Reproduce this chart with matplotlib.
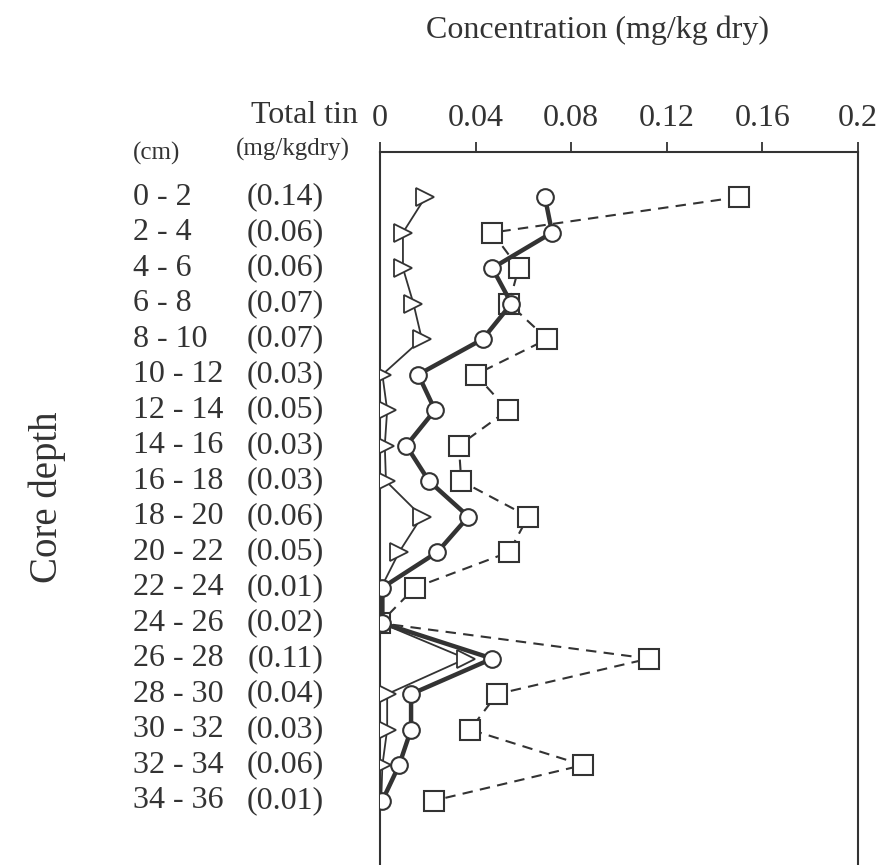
import numpy as np
import matplotlib

matplotlib.use("Agg")
import matplotlib.pyplot as plt

plt.rcParams["font.family"] = ["Liberation Serif", "DejaVu Serif"]

depths = ["0 - 2", "2 - 4", "4 - 6", "6 - 8", "8 - 10", "10 - 12", "12 - 14",
          "14 - 16", "16 - 18", "18 - 20", "20 - 22", "22 - 24", "24 - 26",
          "26 - 28", "28 - 30", "30 - 32", "32 - 34", "34 - 36"]
total_tin = ["(0.14)", "(0.06)", "(0.06)", "(0.07)", "(0.07)", "(0.03)", "(0.05)",
             "(0.03)", "(0.03)", "(0.06)", "(0.05)", "(0.01)", "(0.02)", "(0.11)",
             "(0.04)", "(0.03)", "(0.06)", "(0.01)"]
# triangles (thin solid), circles (thick solid), squares (dashed)
tri = [0.019, 0.0096, 0.0096, 0.014, 0.0175, 0.001, 0.003, 0.002, 0.0025,
       0.0175, 0.008, 0.0005, 0.0005, 0.036, 0.003, 0.003, 0.001, 0.0005]
circ = [0.069, 0.072, 0.047, 0.055, 0.043, 0.016, 0.023, 0.011, 0.0205,
        0.037, 0.024, 0.001, 0.001, 0.047, 0.013, 0.013, 0.008, 0.001]
sq = [0.150, 0.047, 0.058, 0.054, 0.070, 0.040, 0.0535, 0.033, 0.034,
      0.062, 0.054, 0.0146, 0.0, 0.1125, 0.049, 0.0377, 0.085, 0.0225]
xticks = [0, 0.04, 0.08, 0.12, 0.16, 0.2]
xticklabels = ["0", "0.04", "0.08", "0.12", "0.16", "0.2"]

W, H = 889, 865
fig = plt.figure(figsize=(W / 100, H / 100), dpi=100)
ax = fig.add_axes([380 / W, 1 - 900 / H, 478 / W, 748 / H])

rows = np.arange(len(depths))
ink = "#333333"
fs = 23
ax.plot(sq, rows, ls=(0, (5, 3.5)), lw=1.5, color=ink, marker="s", ms=14,
        mfc="white", mec=ink, mew=1.5, zorder=2)
ax.plot(tri, rows, ls="-", lw=1.3, color=ink, marker=">", ms=13,
        mfc="white", mec=ink, mew=1.3, zorder=3)
ax.plot(circ, rows, ls="-", lw=3.2, color=ink, marker="o", ms=12,
        mfc="white", mec=ink, mew=1.5, zorder=4)

ax.set_xlim(0, 0.2)
ax.set_ylim(19.8, -1.27)
ax.xaxis.tick_top()
ax.set_xticks(xticks)
ax.set_xticklabels(xticklabels, fontsize=fs, color=ink)
ax.tick_params(axis="x", direction="out", length=7, width=1.3, color=ink, pad=7)
ax.set_yticks([])
ax.spines["bottom"].set_visible(False)
for s in ["top", "left", "right"]:
    ax.spines[s].set_linewidth(1.5)
    ax.spines[s].set_color(ink)

# depth and total tin labels
tr = ax.get_yaxis_transform()
for i, (d, t) in enumerate(zip(depths, total_tin)):
    ax.text(-0.517, i, d, transform=tr, ha="left", va="center", fontsize=fs, color=ink)
    ax.text(-0.118, i, t, transform=tr, ha="right", va="center", fontsize=fs, color=ink)

fig.text(133 / W, 1 - 153 / H, "(cm)", ha="left", va="center", fontsize=18, color=ink)
fig.text(236 / W, 1 - 149 / H, "(mg/kgdry)", ha="left", va="center", fontsize=18, color=ink)
fig.text(358 / W, 1 - 116 / H, "Total tin", ha="right", va="center", fontsize=fs, color=ink)
fig.text(598 / W, 1 - 30 / H, "Concentration (mg/kg dry)", ha="center", va="center",
         fontsize=fs, color=ink)
fig.text(47 / W, 1 - 497 / H, "Core depth", ha="center", va="center", rotation=90,
         fontsize=28, color=ink)

plt.savefig("out.png", dpi=100)
